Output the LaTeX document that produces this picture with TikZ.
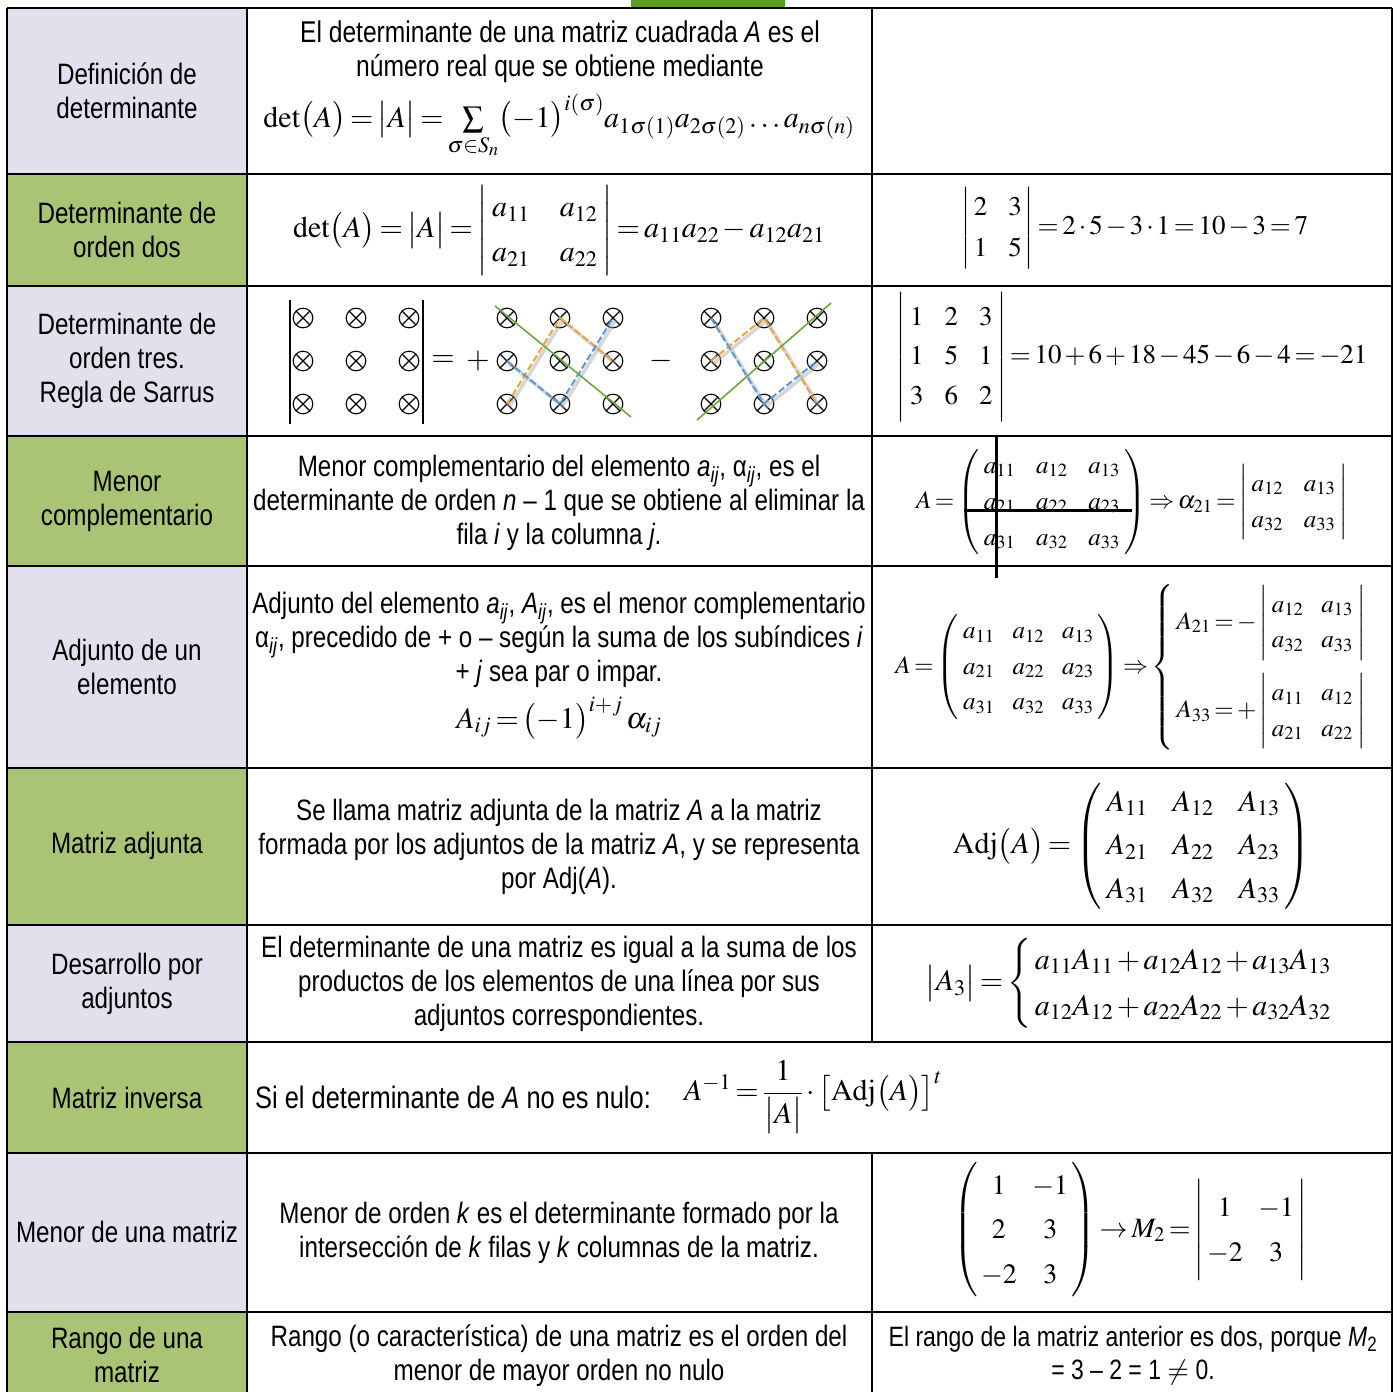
\documentclass[tikz,border=0pt]{standalone}
\usepackage{amsmath}
\usepackage{mathptmx}
\usepackage[no-math]{fontspec}
\setmainfont[FakeStretch=0.82]{Liberation Sans}
\definecolor{lav}{RGB}{228,223,236}
\definecolor{grn}{RGB}{169,196,116}
\definecolor{topgrn}{RGB}{90,158,30}
\definecolor{sorange}{RGB}{233,165,62}
\definecolor{sblue}{RGB}{92,152,214}
\definecolor{sgreen}{RGB}{106,170,60}
\thickmuskip=2.5mu plus 1mu
\medmuskip=2mu plus 1mu
\newcommand\fsz[2]{\fontsize{#1}{#2}\selectfont}
\newcommand\sbi[1]{\textsubscript{\textit{#1}}}
\newcommand\colgap{18mu}
\newcommand\colpad{3mu}
\newcommand\Dtwo[4]{\left|\begin{array}{@{\mskip\colpad}c@{\mskip\colgap}c@{\mskip\colpad}}#1&#2\\#3&#4\end{array}\right|}
\newcommand\Dthree[9]{\left|\begin{array}{@{\mskip\colpad}c@{\mskip\colgap}c@{\mskip\colgap}c@{\mskip\colpad}}#1&#2&#3\\#4&#5&#6\\#7&#8&#9\end{array}\right|}
\newcommand\Mthree[9]{\left(\begin{array}{@{\mskip\colpad}c@{\mskip\colgap}c@{\mskip\colgap}c@{\mskip\colpad}}#1&#2&#3\\#4&#5&#6\\#7&#8&#9\end{array}\right)}
\newcommand\Mtt[6]{\left(\begin{array}{@{\mskip\colpad}c@{\mskip\colgap}c@{\mskip\colpad}}#1&#2\\#3&#4\\#5&#6\end{array}\right)}
\newcommand\otm[2]{\draw[line width=1.1pt] (#1,#2) circle[radius=9.8pt] (#1-6.9,#2-6.9) -- (#1+6.9,#2+6.9) (#1+6.9,#2-6.9) -- (#1-6.9,#2+6.9);}
\begin{document}
\begin{tikzpicture}[x=1pt,y=-1pt,
  txt/.style={font=\fsz{29.5}{34}, align=center, inner sep=0pt},
  mth/.style={font=\fsz{#1}{#1}, inner sep=0pt},
  hline/.style={line width=2.2pt},
  vline/.style={line width=1.8pt},
  gline/.style={line width=1.6pt, draw=sgreen},
  dline/.style={line width=2pt, dash pattern=on 7pt off 3pt, draw=#1},
  sh/.style={line width=3.5pt, draw=black!35, opacity=0.45},
  strike/.style={line width=3pt}]
\useasboundingbox (0,0) rectangle (1398,1392);
\clip (0,0) rectangle (1398,1392);
\fill[white] (0,0) rectangle (1398,1392);
\fill[topgrn] (631,0) rectangle (785,7);
% left column fills
\foreach \a/\b/\c in {8/174/lav,174/286/grn,286/436/lav,436/566/grn,566/768/lav,768/925/grn,925/1042/lav,1042/1153/grn,1153/1312/lav,1312/1400/grn}
  \fill[\c] (7,\a) rectangle (247,\b);
% grid
\foreach \yy in {8,174,286,436,566,768,925,1042,1153,1312}
  \draw[hline] (7,\yy) -- (1392,\yy);
\draw[vline] (7,8) -- (7,1400);
\draw[vline] (247,8) -- (247,1400);
\draw[vline] (872,8) -- (872,1042);
\draw[vline] (872,1153) -- (872,1400);
\draw[vline] (1392,8) -- (1392,1400);
% headers
\node[txt] (h1) at (127,91) {Definición de\\determinante};
\node[txt] (h2) at (127,230) {Determinante de\\orden dos};
\node[txt] (h3) at (127,361) {Determinante de\\orden tres.\\Regla de Sarrus};
\node[txt] (h4) at (127,501) {Menor\\complementario};
\node[txt] (h5) at (127,667) {Adjunto de un\\elemento};
\node[txt] (h6) at (127,846) {Matriz adjunta};
\node[txt] (h7) at (127,984) {Desarrollo por\\adjuntos};
\node[txt] (h8) at (127,1098) {Matriz inversa};
\node[txt] (h9) at (127,1232) {Menor de una matriz};
\node[txt] (h10) at (127,1355) {Rango de una\\matriz};
% row 1
\node[txt, font=\fsz{30}{34}] (t1) at (560,52) {El determinante de una matriz cuadrada \textit{A} es el\\número real que se obtiene mediante};
\node[mth=30, anchor=base] (f1) at (559,127) {$\det\bigl(A\bigr)=\bigl|A\bigr|=\sum\limits_{\sigma\in S_n}\bigl(-1\bigr)^{i(\sigma)}a_{1\sigma(1)}a_{2\sigma(2)}\ldots a_{n\sigma(n)}$};
% row 2
\node[mth=30] (f2) at (559,230) {\renewcommand\arraystretch{1.5}$\det\bigl(A\bigr)=\bigl|A\bigr|=\Dtwo{a_{11}}{a_{12}}{a_{21}}{a_{22}}=a_{11}a_{22}-a_{12}a_{21}$};
\node[mth=27] (g2) at (1135,228) {\renewcommand\arraystretch{1.5}\renewcommand\colgap{14mu}\renewcommand\colpad{2mu}$\Dtwo{2}{3}{1}{5}=2\cdot5-3\cdot1=10-3=7$};
% row 3 Sarrus
\foreach \gx in {303,507,711}
 \foreach \i in {0,1,2}
  \foreach \j in {0,1,2}
   {\pgfmathsetmacro\xx{\gx+53*\i}\pgfmathsetmacro\yy{318+43*\j}\otm{\xx}{\yy}}
\draw[line width=1.3pt] (290,300) -- (290,424) (423,300) -- (423,424);
\node[mth=30] (seq) at (443,361) {$=$};
\node[mth=30] (splus) at (478,361) {$+$};
\node[mth=30] (sminus) at (661,361) {$-$};
\draw[sh,shift={(2.5,2.5)}] (507,404) -- (560,318) -- (613,361);
\draw[sh,shift={(2.5,2.5)}] (507,361) -- (560,404) -- (613,318);
\draw[dline=sorange] (507,404) -- (560,318) -- (613,361);
\draw[dline=sblue] (507,361) -- (560,404) -- (613,318);
\draw[gline] (495,306) -- (631,417);
\draw[sh,shift={(2.5,2.5)}] (711,361) -- (764,318) -- (817,404);
\draw[sh,shift={(2.5,2.5)}] (711,318) -- (764,404) -- (817,361);
\draw[dline=sorange] (711,361) -- (764,318) -- (817,404);
\draw[dline=sblue] (711,318) -- (764,404) -- (817,361);
\draw[gline] (697,420) -- (831,303);
\node[mth=27] (g3) at (1132,357) {\renewcommand\arraystretch{1.48}\renewcommand\colgap{14mu}\renewcommand\colpad{3mu}$\Dthree{1}{2}{3}{1}{5}{1}{3}{6}{2}=10+6+18-45-6-4=-21$};
% row 4
\node[txt] (t4) at (559,503) {Menor complementario del elemento \textit{a}\sbi{ij}, α\sbi{ij}, es el\\determinante de orden \textit{n} – 1 que se obtiene al eliminar la\\fila \textit{i} y la columna \textit{j}.};
\node[mth=25] (g4) at (1132,502) {\renewcommand\arraystretch{1.44}\renewcommand\colgap{15mu}$A=\Mthree{a_{11}}{a_{12}}{a_{13}}{a_{21}}{a_{22}}{a_{23}}{a_{31}}{a_{32}}{a_{33}}\Rightarrow\alpha_{21}=\Dtwo{a_{12}}{a_{13}}{a_{32}}{a_{33}}$};
\draw[strike] (996,437) -- (996,578);
\draw[strike] (964,510) -- (1132,510);
% row 5
\node[txt] (t5) at (559,640) {Adjunto del elemento \textit{a}\sbi{ij}, \textit{A}\sbi{ij}, es el menor complementario\\α\sbi{ij}, precedido de + o – según la suma de los subíndices \textit{i}\\+ \textit{j} sea par o impar.};
\node[mth=30] (f5) at (559,718) {$A_{ij}=\bigl(-1\bigr)^{i+j}\,\alpha_{ij}$};
\node[mth=25] (g5) at (1131,667) {\renewcommand\arraystretch{1.42}\renewcommand\colgap{13mu}$A=\Mthree{a_{11}}{a_{12}}{a_{13}}{a_{21}}{a_{22}}{a_{23}}{a_{31}}{a_{32}}{a_{33}}\Rightarrow\left\{\begin{array}{@{\,}l@{}}A_{21}=-\Dtwo{a_{12}}{a_{13}}{a_{32}}{a_{33}}\\[34pt]A_{33}=+\Dtwo{a_{11}}{a_{12}}{a_{21}}{a_{22}}\end{array}\right.$};
% row 6
\node[txt] (t6) at (559,847) {Se llama matriz adjunta de la matriz \textit{A} a la matriz\\formada por los adjuntos de la matriz \textit{A}, y se representa\\por Adj(\textit{A}).};
\node[mth=30] (g6) at (1132,846) {\renewcommand\arraystretch{1.45}\renewcommand\colgap{15mu}$\mathrm{Adj}\bigl(A\bigr)=\Mthree{A_{11}}{A_{12}}{A_{13}}{A_{21}}{A_{22}}{A_{23}}{A_{31}}{A_{32}}{A_{33}}$};
% row 7
\node[mth=30] (g7) at (1129,983) {\renewcommand\arraystretch{1.53}$\bigl|A_3\bigr|=\left\{\begin{array}{@{\,}l@{}}a_{11}A_{11}+a_{12}A_{12}+a_{13}A_{13}\\a_{12}A_{12}+a_{22}A_{22}+a_{32}A_{32}\end{array}\right.$};
\node[txt] (t7) at (559,984) {El determinante de una matriz es igual a la suma de los\\productos de los elementos de una línea por sus\\adjuntos correspondientes.};
% row 8
\node[txt, font=\fsz{31}{34}, anchor=west] (t8) at (255,1097) {Si el determinante de \textit{A} no es nulo:};
\node[mth=30] (f8) at (813,1097) {$A^{-1}=\dfrac{1}{\bigl|A\bigr|}\cdot\bigl[\mathrm{Adj}\bigl(A\bigr)\bigr]^{t}$};
% row 9
\node[txt] (t9) at (559,1233) {Menor de orden \textit{k} es el determinante formado por la\\intersección de \textit{k} filas y \textit{k} columnas de la matriz.};
\node[mth=28] (g9) at (1130,1230) {\renewcommand\arraystretch{1.6}\renewcommand\colgap{10mu}\renewcommand\colpad{2mu}$\Mtt{1}{-1}{2}{3}{-2}{3}\rightarrow M_2=\Dtwo{1}{-1}{-2}{3}$};
% row 10
\node[txt] (t10) at (559,1356) {Rango (o característica) de una matriz es el orden del\\menor de mayor orden no nulo};
\node[txt, font=\fsz{28}{33}] (g10) at (1133,1356) {El rango de la matriz anterior es dos, porque \textit{M}\textsubscript{2}\\= 3 – 2 = 1 $\neq$ 0.};
\end{tikzpicture}
\end{document}
